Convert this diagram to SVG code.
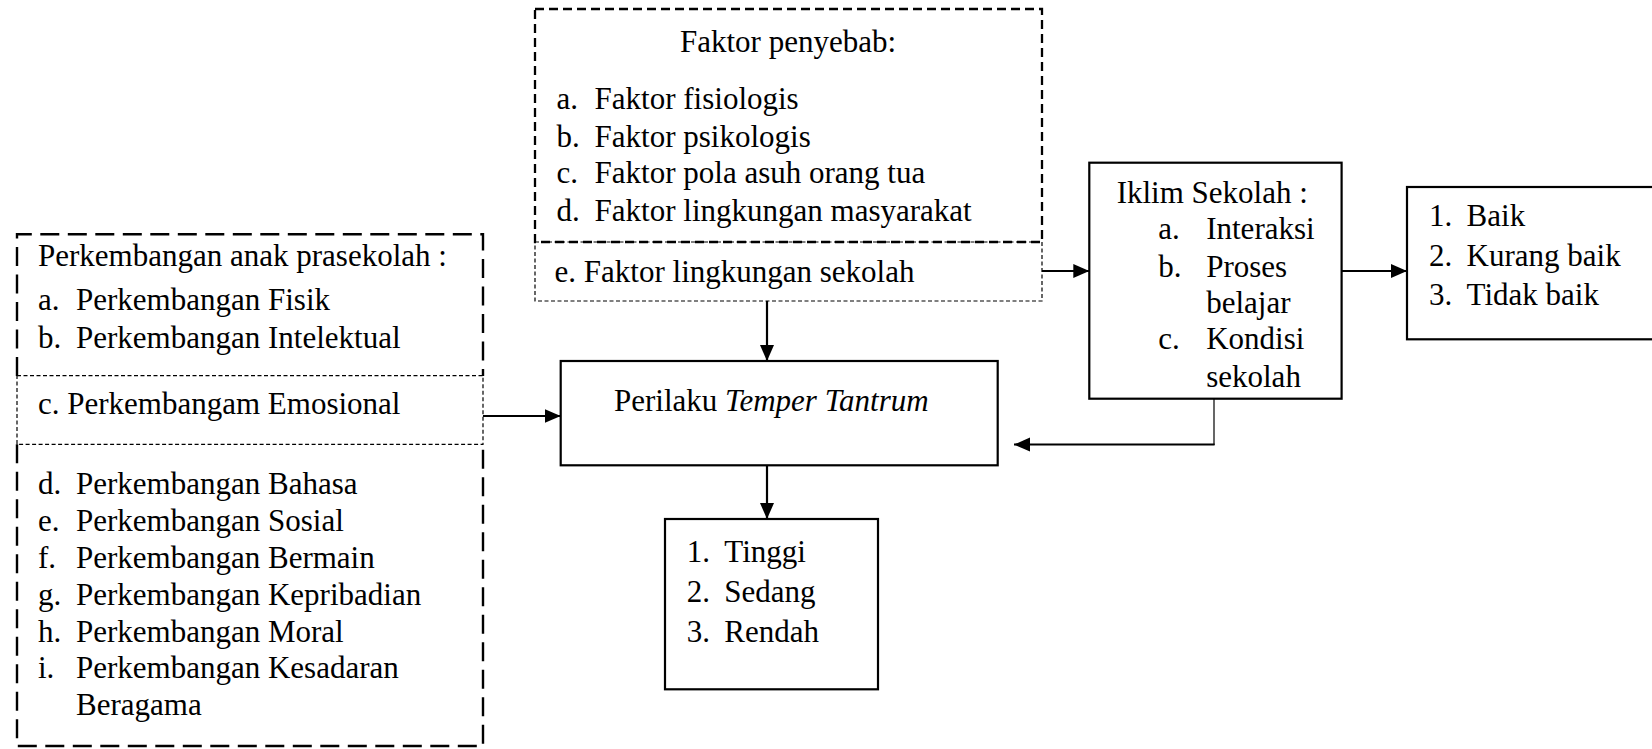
<svg xmlns="http://www.w3.org/2000/svg" width="1652" height="749" viewBox="0 0 1652 749">
  <style>
    text { font-family: "Liberation Serif", "Times New Roman", serif; font-size: 31px; fill: #000; }
    .it { font-style: italic; }
    .solid { fill: #fff; stroke: #000; stroke-width: 2.2; }
    .bigdash { fill: none; stroke: #000; stroke-width: 2.4; stroke-dasharray: 19 8.5; }
    .meddash { fill: none; stroke: #000; stroke-width: 2.3; stroke-dasharray: 9 5; }
    .thindash { fill: none; stroke: #000; stroke-width: 1.2; stroke-dasharray: 4 2.5; }
    .conn { fill: none; stroke: #000; stroke-width: 2.2; }
    .thin { fill: none; stroke: #000; stroke-width: 1.2; }
  </style>
  <defs>
    <marker id="arrow" markerUnits="userSpaceOnUse" markerWidth="17" markerHeight="15" refX="16" refY="7" orient="auto">
      <path d="M0,0 L16,7 L0,14 Z" fill="#000"/>
    </marker>
  </defs>
  <rect width="1652" height="749" fill="#fff"/>

  <g id="node-perkembangan">
    <path class="bigdash" d="M17,376 V234.3 H483 V376"/>
    <path class="bigdash" d="M17,444.3 V746 H483 V444.3"/>
    <rect class="thindash" x="17" y="375.7" width="466" height="68.6"/>
    <text x="38" y="266">Perkembangan anak prasekolah :</text>
    <text x="38" y="310">a.</text><text x="76" y="310">Perkembangan Fisik</text>
    <text x="38" y="347.7">b.</text><text x="76" y="347.7">Perkembangan Intelektual</text>
    <text x="38" y="414.3">c. Perkembangam Emosional</text>
    <text x="38" y="494.3">d.</text><text x="76" y="494.3">Perkembangan Bahasa</text>
    <text x="38" y="531">e.</text><text x="76" y="531">Perkembangan Sosial</text>
    <text x="38" y="567.7">f.</text><text x="76" y="567.7">Perkembangan Bermain</text>
    <text x="38" y="605">g.</text><text x="76" y="605">Perkembangan Kepribadian</text>
    <text x="38" y="641.7">h.</text><text x="76" y="641.7">Perkembangan Moral</text>
    <text x="38" y="678.3">i.</text><text x="76" y="678.3">Perkembangan Kesadaran</text>
    <text x="76" y="715">Beragama</text>
  </g>

  <g id="node-faktor">
    <rect class="meddash" x="535" y="9" width="507" height="233"/>
    <rect class="thindash" x="535" y="242" width="507" height="59"/>
    <text x="788" y="51.7" text-anchor="middle">Faktor penyebab:</text>
    <text x="556.4" y="109">a.</text><text x="594.6" y="109">Faktor fisiologis</text>
    <text x="556.4" y="146.7">b.</text><text x="594.6" y="146.7">Faktor psikologis</text>
    <text x="556.4" y="183.3">c.</text><text x="594.6" y="183.3">Faktor pola asuh orang tua</text>
    <text x="556.4" y="220.7">d.</text><text x="594.6" y="220.7">Faktor lingkungan masyarakat</text>
    <text x="554.6" y="281.7">e. Faktor lingkungan sekolah</text>
  </g>

  <g id="node-perilaku">
    <rect class="solid" x="560.7" y="361" width="437" height="104.3"/>
    <text x="614" y="411">Perilaku <tspan class="it">Temper Tantrum</tspan></text>
  </g>

  <g id="node-tingkat">
    <rect class="solid" x="665" y="519" width="213" height="170.3"/>
    <text x="686.7" y="561.7">1.</text><text x="724.3" y="561.7">Tinggi</text>
    <text x="686.7" y="601.7">2.</text><text x="724.3" y="601.7">Sedang</text>
    <text x="686.7" y="641.7">3.</text><text x="724.3" y="641.7">Rendah</text>
  </g>

  <g id="node-iklim">
    <rect class="solid" x="1089.3" y="162.7" width="252.3" height="236"/>
    <text x="1116.7" y="202.7">Iklim Sekolah :</text>
    <text x="1158.3" y="239.3">a.</text><text x="1206.2" y="239.3">Interaksi</text>
    <text x="1158.3" y="276.7">b.</text><text x="1206.2" y="276.7">Proses</text>
    <text x="1206.2" y="312.7">belajar</text>
    <text x="1158.3" y="349.3">c.</text><text x="1206.2" y="349.3">Kondisi</text>
    <text x="1206.2" y="386.7">sekolah</text>
  </g>

  <g id="node-hasil-iklim">
    <rect class="solid" x="1407" y="187" width="260" height="152.3"/>
    <text x="1429.1" y="226">1.</text><text x="1466.6" y="226">Baik</text>
    <text x="1429.1" y="266">2.</text><text x="1466.6" y="266">Kurang baik</text>
    <text x="1429.1" y="305.3">3.</text><text x="1466.6" y="305.3">Tidak baik</text>
  </g>

  <g id="connectors">
    <line class="conn" x1="767" y1="301" x2="767" y2="361" marker-end="url(#arrow)"/>
    <line class="conn" x1="483" y1="416" x2="560.7" y2="416" marker-end="url(#arrow)"/>
    <line class="conn" x1="1042" y1="271" x2="1089.3" y2="271" marker-end="url(#arrow)"/>
    <line class="conn" x1="1341.6" y1="271" x2="1407" y2="271" marker-end="url(#arrow)"/>
    <line class="thin" x1="1214" y1="398.7" x2="1214" y2="445"/>
    <line class="conn" x1="1214.6" y1="444.5" x2="1014" y2="444.5" marker-end="url(#arrow)"/>
    <line class="conn" x1="767" y1="465.3" x2="767" y2="519" marker-end="url(#arrow)"/>
  </g>
</svg>
